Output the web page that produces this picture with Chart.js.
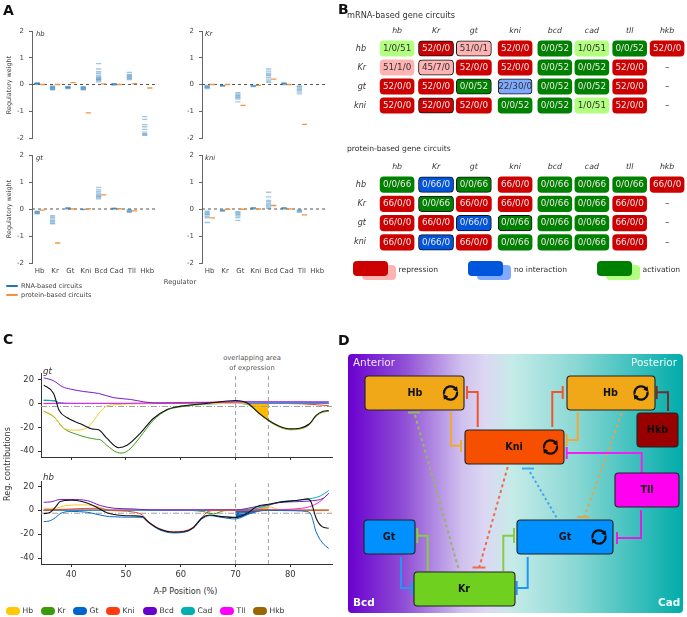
<!DOCTYPE html>
<html>
<head>
<meta charset="utf-8">
<script src="https://cdn.jsdelivr.net/npm/chart.js@4"></script>
<style>
  html, body { margin: 0; background: #fff; }
  #page { position: relative; width: 687px; height: 617px; overflow: hidden; font-family: "DejaVu Sans", sans-serif; color: #333; }
  #page canvas { position: absolute; }
  .txt { position: absolute; white-space: nowrap; line-height: 1; }
  .box { position: absolute; border-radius: 4px; }
</style>
</head>
<body>
<div id="page"></div>
<script>
// panel A: regulatory weights, one list of circuit values per regulator
const regulators = ['Hb', 'Kr', 'Gt', 'Kni', 'Bcd', 'Cad', 'Tll', 'Hkb'];
const weightTicks = [-2, -1, 0, 1, 2];

const hbRna = [
  [0.01, 0.02, 0.03, 0.04, 0.05, 0.06],
  [-0.05, -0.08, -0.1, -0.12, -0.14, -0.16, -0.18, -0.2],
  [-0.07, -0.09, -0.1, -0.12, -0.13, -0.15],
  [-0.08, -0.1, -0.12, -0.14, -0.16, -0.18, -0.2],
  [0.1, 0.15, 0.18, 0.2, 0.23, 0.26, 0.3, 0.35, 0.42, 0.48, 0.58, 0.78],
  [-0.02, 0, 0.01, 0.02, 0.03],
  [0.18, 0.22, 0.25, 0.28, 0.31, 0.34, 0.38, 0.45],
  [-1.2, -1.3, -1.5, -1.58, -1.68, -1.78, -1.84, -1.87, -1.9]
];
const hbProtein = [0, 0, 0.07, -1.06, 0.02, 0, 0.03, -0.13];

const krRna = [
  [-0.03, -0.06, -0.08, -0.1, -0.12, -0.15],
  [-0.03, -0.04, -0.05, -0.06],
  [-0.3, -0.35, -0.4, -0.43, -0.47, -0.5, -0.55, -0.65],
  [-0.03, -0.05, -0.06, -0.08],
  [0.08, 0.13, 0.2, 0.27, 0.33, 0.37, 0.42, 0.5, 0.58],
  [0, 0.02, 0.03, 0.05, 0.06],
  [-0.05, -0.08, -0.13, -0.18, -0.22, -0.28, -0.35],
  []
];
const krProtein = [0, 0, -0.78, -0.03, 0.2, 0, -1.49, null];

const gtRna = [
  [-0.08, -0.1, -0.12, -0.14, -0.16, -0.18],
  [-0.25, -0.3, -0.34, -0.4, -0.44, -0.48, -0.52, -0.55],
  [0, 0.02, 0.03, 0.05],
  [-0.02, -0.01],
  [0.38, 0.43, 0.47, 0.5, 0.55, 0.6, 0.65, 0.72, 0.8],
  [0, 0.01, 0.02, 0.03],
  [-0.02, -0.05, -0.08, -0.1, -0.12],
  []
];
const gtProtein = [-0.04, -1.26, 0, 0.01, 0.52, 0.01, -0.07, null];

const kniRna = [
  [-0.08, -0.12, -0.16, -0.2, -0.23, -0.28, -0.33, -0.5],
  [-0.03, -0.05, -0.07, -0.08],
  [-0.1, -0.13, -0.17, -0.21, -0.26, -0.32, -0.42],
  [0, 0.02, 0.04, 0.05],
  [0.02, 0.07, 0.12, 0.17, 0.22, 0.27, 0.32, 0.45, 0.62],
  [0, 0.02, 0.04, 0.05],
  [-0.03, -0.06, -0.09, -0.12],
  []
];
const kniProtein = [-0.33, -0.01, -0.01, 0, 0.13, 0, -0.22, null];

// panel B: counts of repression / no interaction / activation circuits
const circuitGenes = ['hb', 'Kr', 'gt', 'kni', 'bcd', 'cad', 'tll', 'hkb'];
const circuitRows = ['hb', 'Kr', 'gt', 'kni'];
const mrnaHb = ['1/0/51', '52/0/0', '51/0/1', '52/0/0', '0/0/52', '1/0/51', '0/0/52', '52/0/0'];
const mrnaKr = ['51/1/0', '45/7/0', '52/0/0', '52/0/0', '0/0/52', '0/0/52', '52/0/0', null];
const mrnaGt = ['52/0/0', '52/0/0', '0/0/52', '22/30/0', '0/0/52', '0/0/52', '52/0/0', null];
const mrnaKni = ['52/0/0', '52/0/0', '52/0/0', '0/0/52', '0/0/52', '1/0/51', '52/0/0', null];
const proteinHb = ['0/0/66', '0/66/0', '0/0/66', '66/0/0', '0/0/66', '0/0/66', '0/0/66', '66/0/0'];
const proteinKr = ['66/0/0', '0/0/66', '66/0/0', '66/0/0', '0/0/66', '0/0/66', '66/0/0', null];
const proteinGt = ['66/0/0', '66/0/0', '0/66/0', '0/0/66', '0/0/66', '0/0/66', '66/0/0', null];
const proteinKni = ['66/0/0', '0/66/0', '66/0/0', '0/0/66', '0/0/66', '0/0/66', '66/0/0', null];
// row, column of the cells with a black outline
const outlinedCells = ['0,1', '0,2', '1,1', '2,2', '2,3', '3,1'];

// panel C: [A-P position, contribution]
const positionTicks = [40, 50, 60, 70, 80];
const contributionTicks = [-40, -20, 0, 20];
const thresholdLevel = -2.5;
const overlapBounds = [70, 76];

const gtTotal = [[35,15.4],[36.8,8.4],[37.8,-5.6],[39.3,-12],[41.7,-17],[44,-21.5],[45,-22],[46.5,-29],[48.7,-37],[50.2,-35],[52.6,-25],[55,-12.6],[57.5,-5],[60,-2.2],[64.7,0],[70,2.5],[72.3,0],[74,-7],[76,-14],[78,-19],[80,-21.3],[81.7,-20.7],[83.5,-17],[84.7,-10],[86,-6.5],[87,-6]];
const gtKr = [[35,-6.4],[36.8,-11],[38.7,-21],[41,-25.8],[44.7,-30],[45.3,-30.3],[46.5,-35],[48.4,-41],[49.3,-41.5],[50.8,-37.8],[52.6,-28],[55,-14],[57.5,-5.6],[60,-2.8],[64.7,-0.5],[70,0],[72.3,-1],[74,-7.5],[76,-14.5],[78,-19.7],[80,-22],[81.7,-21.4],[83.5,-17.7],[84.7,-10.7],[86,-7.2],[87,-6.7]];
const gtHb = [[35,-6.2],[36.8,-10.5],[38.7,-21],[41,-22.4],[43,-20],[44,-15],[45.3,-7],[46.5,-2.2],[48,-1],[52,-0.3],[60,-0.1],[70,0],[72.3,-0.5],[74,-7.2],[76,-14.2],[78,-19.3],[80,-21.6],[81.7,-21],[83.5,-17.4],[84.7,-10.4],[86,-6.8],[87,-6.3]];
const gtBcd = [[35,21.5],[36.8,19],[38.4,14],[39.9,12],[42.3,10],[45,8.4],[47.8,4.8],[50.8,3.4],[53.2,1.4],[55.6,0.3],[60,0.3],[65,0.8],[70,1.4],[76,1.3],[87,1.3]];
const gtCad = [[35,2.8],[37.1,2.2],[37.8,0.5],[40,0],[87,0]];
const gtGt = [[35,2.6],[37.1,2],[37.8,0.5],[40,0.1],[87,0]];
const gtTll = [[35,0],[50,0],[55,0.5],[70,1.2],[80,1.1],[87,1]];
const gtKni = [[35,0],[60,0],[76,0],[82,-0.3],[87,-1.8]];
const gtHkb = [[35,0],[70,0],[87,0]];
const gtOverlap = [[72.3,0],[73,-2],[74,-7],[75,-10.5],[76,-14]];

const hbTotal = [[35,-2.8],[36.2,-1.7],[37.2,3],[38,7.3],[40,8.4],[42,7.3],[44,4],[46.5,-2],[48.4,-4],[51.4,-4.7],[53,-5.3],[54,-9.5],[56.2,-16],[58.7,-18.4],[60.5,-18],[62.3,-14.5],[63.8,-6.7],[65.3,-4],[67.5,-5.3],[70,-6],[72.3,-2],[73.8,3],[76,5],[78,6.7],[81.7,8.6],[83.2,9.5],[83.8,6.7],[84.7,-6.7],[85.8,-13.7],[87,-15]];
const hbGt = [[35,-9.5],[36,-9],[37.2,-6],[38,-2.8],[40,-1],[43,-1.7],[45.3,-4],[47,-5.3],[51.4,-5.8],[53,-6],[54,-10],[56.2,-16.5],[58.7,-19],[60.5,-18.5],[62.3,-15],[63.8,-7.5],[65.3,-4.5],[67.5,-6],[70,-7.3],[72.3,-3.4],[74,-1],[76,0],[79,-0.3],[83,-1],[83.8,-4],[84.7,-18],[85.8,-27],[87,-32]];
const hbBcd = [[35,6.7],[36.3,7],[38,9],[40,9],[43,8],[45.3,4],[47.8,1.7],[51.4,1.1],[54.4,0.3],[70,0.3],[73.8,3],[76,4.5],[78,6.4],[81.7,7.3],[84,8],[86,10],[87,14.3]];
const hbCad = [[35,0],[60,0],[70,0.3],[72.3,0.8],[76,4],[78,7],[81.7,8.4],[84,10],[85.5,12],[87,16.5]];
const hbTll = [[35,0],[60,0],[76,0.3],[80.5,1],[83.5,3],[85.3,7],[87,14]];
const hbHb = [[35,1.6],[37,1.6],[39,4],[42.3,4.5],[45,3],[46.5,0.5],[50,0],[70,0],[73.8,1],[76,3],[78.5,0],[87,0]];
const hbKr = [[35,0],[45,0],[60,0],[64,-1],[66,-3],[68,-0.3],[72,0],[87,0]];
const hbKni = [[35,0],[45,1.7],[47,0],[51.4,-1.5],[53,-4],[54,-9],[56.2,-15.5],[58.7,-18],[60.5,-17.5],[62.3,-14],[63.8,-6.5],[65,-1],[67,0],[87,0]];
const hbHkb = [[35,0],[70,0],[87,0]];
const hbOverlapGt = [[70,-6.5],[71,-5.8],[72,-4],[73,-2.3],[74,-1],[75,-0.3],[76,0]];
const hbOverlapCad = [[70,0.2],[72,0.7],[74,1.8],[76,3]];
const hbOverlapHb = [[73.5,0],[74.5,1],[76,3]];

const seriesNames = ['Hb', 'Kr', 'Gt', 'Kni', 'Bcd', 'Cad', 'Tll', 'Hkb'];

// panel D labels
const anteriorLabels = ['Anterior', 'Posterior', 'Bcd', 'Cad'];

const page = document.getElementById('page');
const FONT = '"DejaVu Sans", sans-serif';
Chart.defaults.font.family = FONT;
Chart.defaults.color = '#333';
Chart.defaults.animation = false;

const label = (text, x, y, size, opts = {}) => {
  const el = document.createElement('div');
  el.className = 'txt';
  el.textContent = text;
  el.style.left = x + 'px';
  el.style.top = y + 'px';
  el.style.fontSize = size + 'px';
  if (opts.color) el.style.color = opts.color;
  if (opts.bold) el.style.fontWeight = 'bold';
  if (opts.italic) el.style.fontStyle = 'italic';
  el.style.transform = opts.transform || 'translateY(-50%)';
  page.appendChild(el);
  return el;
};

const addBox = (x, y, w, h, color) => {
  const el = document.createElement('div');
  el.className = 'box';
  el.style.cssText += `left:${x}px;top:${y}px;width:${w}px;height:${h}px;background:${color}`;
  page.appendChild(el);
};

// canvas placed so that the plot area lands on the given page rectangle
const addCanvas = (plot, pad) => {
  const c = document.createElement('canvas');
  const w = plot.right - plot.left + pad.left + pad.right;
  const h = plot.bottom - plot.top + pad.top + pad.bottom;
  c.width = w;
  c.height = h;
  c.style.left = (plot.left - pad.left) + 'px';
  c.style.top = (plot.top - pad.top) + 'px';
  c.style.width = w + 'px';
  c.style.height = h + 'px';
  page.appendChild(c);
  return c;
};

const fixedTicks = values => scale => { scale.ticks = values.map(v => ({value: v})); };
// pin axis thickness and drop the label overhang padding, so plots land exactly on their rectangles
const fitX = height => s => { s.height = height; s.paddingLeft = 0; s.paddingRight = 0; };
const fitY = width => s => { s.width = width; s.paddingTop = 0; s.paddingBottom = 0; };

/* ---------- panel A ---------- */
const weightChart = (plot, rna, protein, showLabels) => {
  const rnaPoints = [];
  rna.forEach((vals, i) => vals.forEach(v => rnaPoints.push({x: i - 0.165, y: v})));
  const proteinPoints = protein.map((v, i) => v === null ? null : {x: i + 0.17, y: v}).filter(Boolean);
  const zero = [{x: -0.5, y: 0}, {x: 7.55, y: 0}];
  new Chart(addCanvas(plot, {left: 26, right: 2, top: 6, bottom: 16}), {
    type: 'scatter',
    data: {datasets: [
      {data: rnaPoints, pointStyle: 'line', pointRadius: 2.6, pointBorderWidth: 1.3, borderColor: 'rgba(31,119,180,0.42)', backgroundColor: 'rgba(31,119,180,0.42)'},
      {data: proteinPoints, pointStyle: 'line', pointRadius: 2.6, pointBorderWidth: 1.3, borderColor: '#f5943c', backgroundColor: '#f5943c'},
      {data: zero, showLine: true, pointRadius: 0, borderColor: '#555', borderWidth: 1, borderDash: [3, 3]}
    ]},
    options: {
      responsive: false,
      layout: {padding: {top: 6, right: 2}},
      plugins: {legend: {display: false}, tooltip: {enabled: false}},
      scales: {
        x: {
          type: 'linear', min: -0.5, max: 7.55,
          afterBuildTicks: fixedTicks(regulators.map((_, i) => i)),
          afterFit: fitX(16),
          border: {display: false},
          grid: {display: false, drawTicks: false},
          ticks: {display: showLabels, autoSkip: false, maxRotation: 0, padding: 4, color: '#444', font: {size: 7}, callback: v => regulators[v]}
        },
        y: {
          min: -2, max: 2,
          afterBuildTicks: fixedTicks(weightTicks),
          afterFit: fitY(26),
          border: {color: '#666'},
          grid: {drawOnChartArea: false, tickLength: 3, color: '#666'},
          ticks: {padding: 5, color: '#444', font: {size: 7}}
        }
      }
    }
  });
};

weightChart({left: 32, right: 159, top: 31, bottom: 138}, hbRna, hbProtein, false);
weightChart({left: 202, right: 329, top: 31, bottom: 138}, krRna, krProtein, false);
weightChart({left: 32, right: 159, top: 155, bottom: 263}, gtRna, gtProtein, true);
weightChart({left: 202, right: 329, top: 155, bottom: 263}, kniRna, kniProtein, true);

label('hb', 36, 34, 6.8, {italic: true});
label('Kr', 205, 34, 6.8, {italic: true});
label('gt', 36, 158, 6.8, {italic: true});
label('kni', 205, 158, 6.8, {italic: true});
label('Regulatory weight', 9, 85, 6.4, {transform: 'translate(-50%,-50%) rotate(-90deg)', color: '#444'});
label('Regulatory weight', 9, 209, 6.4, {transform: 'translate(-50%,-50%) rotate(-90deg)', color: '#444'});
label('Regulator', 180, 282, 6.7, {transform: 'translate(-50%,-50%)', color: '#444'});
addBox(6, 285, 12, 2, '#1f77b4');
addBox(6, 294, 12, 2, '#f5943c');
label('RNA-based circuits', 21, 286, 6.5, {color: '#444'});
label('protein-based circuits', 21, 295, 6.5, {color: '#444'});

/* ---------- panel B ---------- */
const darkState = ['#cc0000', '#0055dd', '#008000'];
const lightState = ['#ffb3b3', '#80aaff', '#b3ff80'];
const colOffsets = [0, 1.01, 1.99, 3.06, 4.09, 5.05, 6.03, 7];

const stateOf = counts => {
  const n = counts.split('/').map(Number);
  const top = Math.max(...n);
  const total = n[0] + n[1] + n[2];
  return {color: (top === total ? darkState : lightState)[n.indexOf(top)], pure: top === total};
};

const cellText = {
  id: 'cellText',
  afterDatasetsDraw(chart) {
    const {ctx, scales: {x, y}} = chart;
    ctx.save();
    ctx.textAlign = 'center';
    ctx.textBaseline = 'middle';
    ctx.font = '8.8px ' + FONT;
    chart.data.datasets.forEach((ds, c) => {
      ds.texts.forEach((t, r) => {
        const st = t ? stateOf(t) : null;
        ctx.fillStyle = st && st.pure ? '#f0e8e8' : '#333';
        ctx.fillText(t || '–', x.getPixelForValue(colOffsets[c]), y.getPixelForValue(r));
      });
    });
    ctx.restore();
  }
};

const circuitChart = (plot, rows) => {
  const datasets = circuitGenes.map((gene, c) => {
    const texts = rows.map(row => row[c]);
    const colors = texts.map(t => t ? stateOf(t).color : 'transparent');
    const outlined = texts.map((t, r) => outlinedCells.includes(r + ',' + c));
    const half = c === 1 || c === 2 ? 0.455 : 0.44;
    return {
      label: gene,
      texts: texts,
      grouped: false,
      barThickness: 15.5,
      data: texts.map(t => t ? [colOffsets[c] - half, colOffsets[c] + half] : null),
      backgroundColor: colors,
      borderColor: outlined.map((o, r) => o ? '#111' : colors[r]),
      borderWidth: outlined.map(o => o ? 1 : 0),
      borderRadius: 4,
      borderSkipped: false
    };
  });
  new Chart(addCanvas(plot, {left: 30, right: 1, top: 15, bottom: 1}), {
    type: 'bar',
    data: {labels: circuitRows, datasets: datasets},
    plugins: [cellText],
    options: {
      indexAxis: 'y',
      responsive: false,
      layout: {padding: {right: 1, bottom: 1}},
      plugins: {legend: {display: false}, tooltip: {enabled: false}},
      scales: {
        x: {
          type: 'linear', position: 'top', min: -0.65, max: 7.49,
          afterBuildTicks: fixedTicks(colOffsets),
          afterFit: fitX(15),
          border: {display: false},
          grid: {display: false, drawTicks: false},
          ticks: {autoSkip: false, maxRotation: 0, padding: 3, font: {size: 7.8, style: 'italic'}, callback: v => circuitGenes[colOffsets.indexOf(v)]}
        },
        y: {
          afterFit: fitY(30),
          border: {display: false},
          grid: {display: false, drawTicks: false},
          ticks: {padding: 6, font: {size: 8, style: 'italic'}}
        }
      }
    }
  });
};

circuitChart({left: 372, right: 686, top: 39, bottom: 115}, [mrnaHb, mrnaKr, mrnaGt, mrnaKni]);
circuitChart({left: 372, right: 686, top: 175, bottom: 252}, [proteinHb, proteinKr, proteinGt, proteinKni]);

label('mRNA-based gene circuits', 347, 15, 8.2);
label('protein-based gene circuits', 347, 149, 7.6);
const keyEntries = [
  {text: 'repression', x: 353, tx: 398.5, state: 0},
  {text: 'no interaction', x: 468, tx: 514, state: 1},
  {text: 'activation', x: 597, tx: 642.5, state: 2}
];
keyEntries.forEach(k => {
  addBox(k.x + 8.5, 264.5, 34, 15.5, lightState[k.state]);
  addBox(k.x, 260.5, 35, 15.5, darkState[k.state]);
  label(k.text, k.tx, 270, 7.6);
});

/* ---------- panel C ---------- */
const stateColors = {Hb: '#f7c92e', Kr: '#3f9c18', Gt: '#0a68c8', Kni: '#f0452a', Bcd: '#7a18cc', Cad: '#0ab0b0', Tll: '#f020f0', Hkb: '#8a2020'};
const legendColors = ['#ffc800', '#3a9a0a', '#0066cc', '#ff3c10', '#6a00cc', '#00b0b0', '#ff00ff', '#996600'];
const pts = pairs => pairs.map(p => ({x: p[0], y: p[1]}));
const curve = (pairs, color, width) => ({data: pts(pairs), showLine: true, pointRadius: 0, borderColor: color, borderWidth: width || 1, cubicInterpolationMode: 'monotone'});
const area = (pairs, color, level) => ({data: pts(pairs), showLine: true, pointRadius: 0, borderWidth: 0, borderColor: 'transparent', backgroundColor: color, fill: {value: level || 0}});
const guide = (a, b, color, dash) => ({data: [{x: a[0], y: a[1]}, {x: b[0], y: b[1]}], showLine: true, pointRadius: 0, borderColor: color, borderWidth: 1, borderDash: dash});

const contributionChart = (plot, yMin, yMax, guideTop, lines, areas, showLabels, padBottom) => {
  const guides = [
    guide([34.5, thresholdLevel], [87.6, thresholdLevel], '#a0a0a0', [6, 2, 1, 2]),
    guide([overlapBounds[0], yMin], [overlapBounds[0], guideTop], '#a0a0a0', [4, 3]),
    guide([overlapBounds[1], yMin], [overlapBounds[1], guideTop], '#a0a0a0', [4, 3])
  ];
  new Chart(addCanvas(plot, {left: 30, right: 2, top: 2, bottom: padBottom}), {
    type: 'scatter',
    data: {datasets: lines.concat(guides, areas)},
    options: {
      responsive: false,
      layout: {padding: {top: 2, right: 2}},
      plugins: {legend: {display: false}, tooltip: {enabled: false}},
      scales: {
        x: {
          type: 'linear', min: 34.5, max: 87.6,
          afterBuildTicks: fixedTicks(positionTicks),
          afterFit: fitX(padBottom),
          border: {color: '#333'},
          grid: {drawOnChartArea: false, tickLength: 3, color: '#333'},
          ticks: {maxRotation: 0, padding: 3, color: '#333', font: {size: 8.4}, callback: v => showLabels ? v : ''}
        },
        y: {
          min: yMin, max: yMax,
          afterBuildTicks: fixedTicks(contributionTicks),
          afterFit: fitY(30),
          border: {color: '#333'},
          grid: {drawOnChartArea: false, tickLength: 3, color: '#333'},
          ticks: {padding: 4, color: '#333', font: {size: 8.4}}
        }
      }
    }
  });
};

contributionChart({left: 41, right: 332, top: 373, bottom: 457}, -44.8, 25.5, 23.5, [
  curve(gtTotal, '#111', 1.1),
  curve(gtBcd, stateColors.Bcd),
  curve(gtTll, stateColors.Tll),
  curve(gtHb, stateColors.Hb),
  curve(gtKr, stateColors.Kr),
  curve(gtCad, stateColors.Cad),
  curve(gtGt, stateColors.Gt),
  curve(gtHkb, stateColors.Hkb),
  curve(gtKni, stateColors.Kni)
], [area(gtOverlap, '#ffb900')], false, 6);

contributionChart({left: 41, right: 332, top: 481, bottom: 564}, -45, 24.5, 22.5, [
  curve(hbTotal, '#111', 1.1),
  curve(hbGt, stateColors.Gt),
  curve(hbKni, stateColors.Kni),
  curve(hbBcd, stateColors.Bcd),
  curve(hbCad, stateColors.Cad),
  curve(hbTll, stateColors.Tll),
  curve(hbHb, stateColors.Hb),
  curve(hbKr, stateColors.Kr),
  curve(hbHkb, stateColors.Hkb)
], [area(hbOverlapHb, '#ffb900'), area(hbOverlapCad, '#2a9a8a'), area(hbOverlapGt, '#0a68c8')], true, 20);

label('gt', 43, 371, 8.6, {italic: true});
label('hb', 43, 477, 8.6, {italic: true});
label('overlapping area', 252, 358, 6.8, {transform: 'translate(-50%,-50%)', color: '#555'});
label('of expression', 252, 368, 6.8, {transform: 'translate(-50%,-50%)', color: '#555'});
label('Reg. contributions', 7, 464, 8.1, {transform: 'translate(-50%,-50%) rotate(-90deg)'});
label('A-P Position (%)', 185.5, 591, 8.1, {transform: 'translate(-50%,-50%)'});

const swatchX = [6, 41, 73, 106, 143, 181, 220, 253];
seriesNames.forEach((name, i) => {
  const el = document.createElement('div');
  el.className = 'box';
  el.style.cssText += `left:${swatchX[i]}px;top:607px;width:14px;height:7.5px;border-radius:4px;background:${legendColors[i]}`;
  page.appendChild(el);
  label(name, swatchX[i] + 16.5, 610.5, 7.6);
});

/* ---------- panel D, scales run in page pixels ---------- */
const nodes = [
  {name: 'Hb', x0: 365, x1: 464, y0: 376, y1: 410, tx: 415, color: '#f0a818', loop: 450.5},
  {name: 'Hb', x0: 567, x1: 655, y0: 376, y1: 410, tx: 610.5, color: '#f0a818', loop: 641},
  {name: 'Kni', x0: 465, x1: 564, y0: 430, y1: 464, tx: 514, color: '#f74f00', loop: 550.5},
  {name: 'Hkb', x0: 637, x1: 678, y0: 413, y1: 447, tx: 657.5, color: '#990000'},
  {name: 'Tll', x0: 615, x1: 679, y0: 473, y1: 507, tx: 647, color: '#ff00f0'},
  {name: 'Gt', x0: 364, x1: 415, y0: 520, y1: 554, tx: 389, color: '#0090ff'},
  {name: 'Gt', x0: 517, x1: 613, y0: 520, y1: 554, tx: 565, color: '#0090ff', loop: 599},
  {name: 'Kr', x0: 414, x1: 515, y0: 572, y1: 606, tx: 464, color: '#70d020'}
];
const links = [
  {path: [[477.7,427],[477.7,392],[467,392]], bar: [[467,386],[467,399]], color: '#f05530'},
  {path: [[451,412],[451,445.7],[461,445.7]], bar: [[461,440],[461,452]], color: '#f0a838'},
  {path: [[552.3,427],[552.3,392],[562.7,392]], bar: [[562.7,386],[562.7,399]], color: '#f05530'},
  {path: [[577.7,412],[577.7,440],[566.7,440]], bar: [[566.7,434],[566.7,446]], color: '#f0a838'},
  {path: [[668,411],[668,392.3],[656.7,392.3]], bar: [[656.7,386],[656.7,399]], color: '#703030'},
  {path: [[641.7,473],[641.7,453],[566.7,453]], bar: [[566.7,447],[566.7,459]], color: '#f020f0'},
  {path: [[641,510],[641,538],[617,538]], bar: [[617,532],[617,544]], color: '#e020e0'},
  {path: [[427.7,571],[427.7,535.7],[417.3,535.7]], bar: [[417.3,528],[417.3,543]], color: '#88cc44'},
  {path: [[401,557],[401,588],[412,588]], bar: [[412,581],[412,595]], color: '#2098f0'},
  {path: [[503.3,571],[503.3,535.7],[514,535.7]], bar: [[514,528],[514,543]], color: '#88cc44'},
  {path: [[527.7,557],[527.7,588],[516.7,588]], bar: [[516.7,581],[516.7,595]], color: '#2098f0'},
  {path: [[415,415],[458.3,568.3]], bar: [[408,412.5],[420,412.5]], color: '#98b468', dash: [3, 3]},
  {path: [[507.7,467],[479.3,567]], bar: [[472.5,567.5],[485.5,567.5]], color: '#e87048', dash: [3, 3]},
  {path: [[530,472],[556.7,517.7]], bar: [[522,468.5],[534,468.5]], color: '#40a8f0', dash: [2.5, 2.5]},
  {path: [[621.7,413.3],[584.3,516.7]], bar: [[577,517],[589.5,517]], color: '#d8a858', dash: [3, 3]}
];
const linkDatasets = [];
links.forEach(l => {
  linkDatasets.push({data: pts(l.path), showLine: true, pointRadius: 0, borderColor: l.color, borderWidth: 2, borderDash: l.dash || [], borderCapStyle: 'butt', borderJoinStyle: 'miter'});
  linkDatasets.push({data: pts(l.bar), showLine: true, pointRadius: 0, borderColor: l.color, borderWidth: 2});
});

const drawLoop = (ctx, cx, cy) => {
  const r = 6.6;
  ctx.save();
  ctx.strokeStyle = '#111';
  ctx.fillStyle = '#111';
  ctx.lineWidth = 2.3;
  [[Math.PI * 0.95, Math.PI * 1.8], [Math.PI * 1.95, Math.PI * 2.8]].forEach(a => {
    ctx.beginPath();
    ctx.arc(cx, cy, r, a[0], a[1]);
    ctx.stroke();
    const ex = cx + r * Math.cos(a[1]);
    const ey = cy + r * Math.sin(a[1]);
    const t = a[1] + Math.PI / 2;
    ctx.beginPath();
    ctx.moveTo(ex + 3.6 * Math.cos(t), ey + 3.6 * Math.sin(t));
    ctx.lineTo(ex + 3 * Math.cos(t + 2.1), ey + 3 * Math.sin(t + 2.1));
    ctx.lineTo(ex + 3 * Math.cos(t - 2.1), ey + 3 * Math.sin(t - 2.1));
    ctx.closePath();
    ctx.fill();
  });
  ctx.restore();
};

const diagram = {
  id: 'diagram',
  beforeDatasetsDraw(chart) {
    const {ctx, chartArea: a} = chart;
    const g = ctx.createLinearGradient(a.left, 0, a.right, 0);
    g.addColorStop(0, '#6a00d0');
    g.addColorStop(0.17, '#9050d5');
    g.addColorStop(0.34, '#d0c0ee');
    g.addColorStop(0.41, '#dcd8f3');
    g.addColorStop(0.49, '#c5ebe8');
    g.addColorStop(0.68, '#8ad8d4');
    g.addColorStop(1, '#00acaa');
    ctx.save();
    ctx.fillStyle = g;
    ctx.beginPath();
    ctx.roundRect(a.left, a.top, a.right - a.left, a.bottom - a.top, 4);
    ctx.fill();
    ctx.restore();
  },
  afterDatasetsDraw(chart) {
    const {ctx, scales: {x, y}} = chart;
    ctx.save();
    nodes.forEach(n => {
      const px = x.getPixelForValue(n.x0);
      const py = y.getPixelForValue(n.y0);
      ctx.fillStyle = n.color;
      ctx.strokeStyle = '#222';
      ctx.lineWidth = 1.1;
      ctx.beginPath();
      ctx.roundRect(px, py, x.getPixelForValue(n.x1) - px, y.getPixelForValue(n.y1) - py, 3.5);
      ctx.fill();
      ctx.stroke();
      const my = y.getPixelForValue((n.y0 + n.y1) / 2);
      ctx.fillStyle = '#111';
      ctx.font = 'bold 9.6px ' + FONT;
      ctx.textAlign = 'center';
      ctx.textBaseline = 'middle';
      ctx.fillText(n.name, x.getPixelForValue(n.tx), my);
      if (n.loop) drawLoop(ctx, x.getPixelForValue(n.loop), my);
    });
    ctx.restore();
  }
};

new Chart(addCanvas({left: 348, right: 683, top: 354, bottom: 613}, {left: 0, right: 0, top: 0, bottom: 0}), {
  type: 'scatter',
  data: {datasets: linkDatasets},
  plugins: [diagram],
  options: {
    responsive: false,
    layout: {padding: 0},
    plugins: {legend: {display: false}, tooltip: {enabled: false}},
    scales: {
      x: {type: 'linear', display: false, min: 348, max: 683},
      y: {display: false, reverse: true, min: 354, max: 613}
    }
  }
});

label(anteriorLabels[0], 353, 362, 10.4, {color: '#f0e8ff'});
label(anteriorLabels[1], 631, 362, 10.4, {color: '#e8fffc'});
label(anteriorLabels[2], 353, 601.5, 10.5, {color: '#fff', bold: true});
label(anteriorLabels[3], 658, 601.5, 10.5, {color: '#eafffd', bold: true});

// panel letters
label('A', 3, 10, 14, {bold: true, color: '#111'});
label('B', 338, 9, 14, {bold: true, color: '#111'});
label('C', 3, 339, 14, {bold: true, color: '#111'});
label('D', 338, 340, 14, {bold: true, color: '#111'});
</script>
</body>
</html>
